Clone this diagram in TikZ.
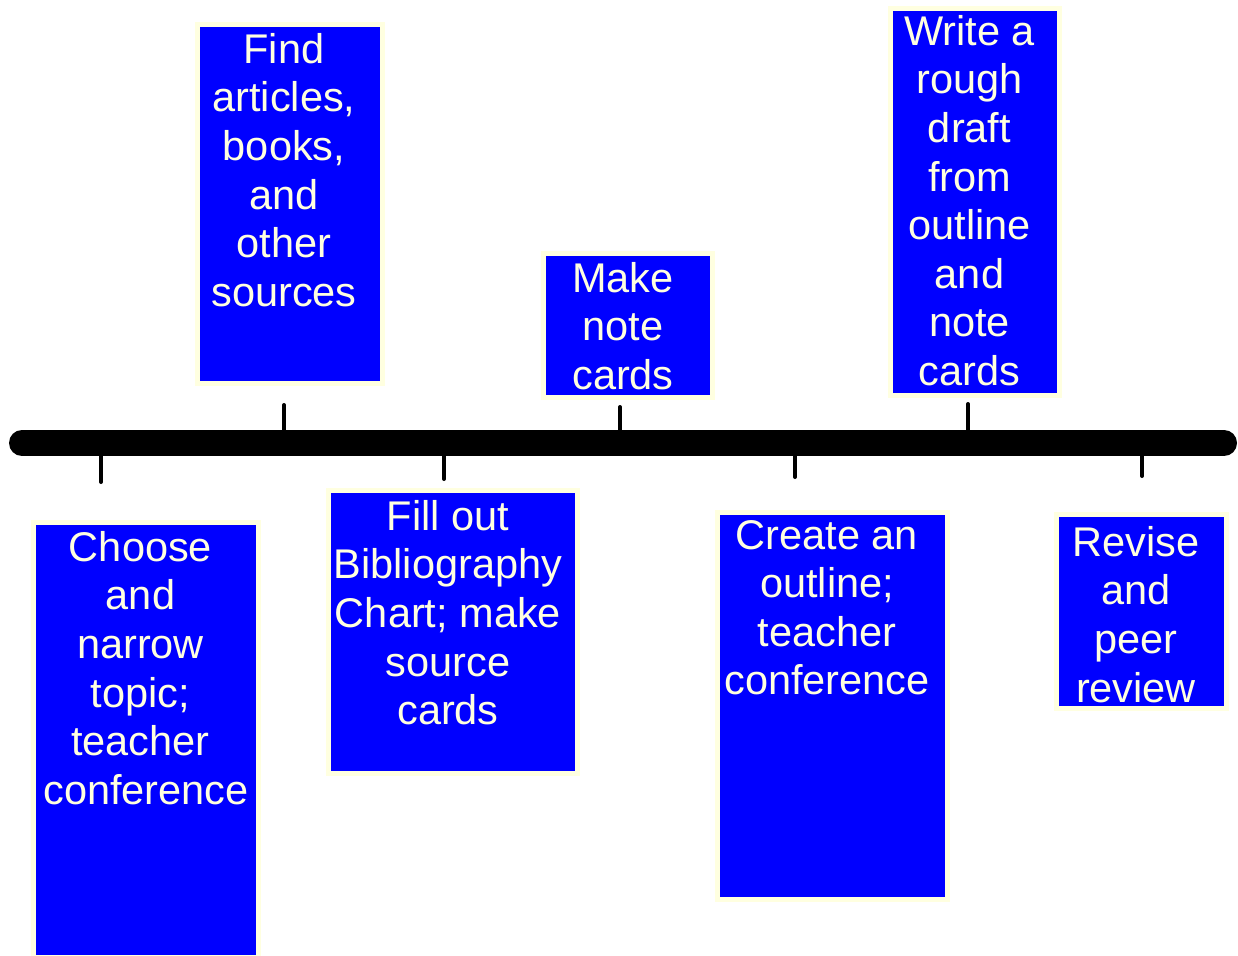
\documentclass[tikz,border=0pt]{standalone}
\usepackage{fontspec}
\setmainfont{Liberation Sans}
\definecolor{cream}{HTML}{FFFFE0}
\definecolor{boxblue}{HTML}{0000FF}
\newcommand\tsp{\kern11pt}
\begin{document}
\begin{tikzpicture}[x=1pt,y=-1pt,
  box/.style={fill=boxblue, draw=cream, line width=5pt, inner sep=0pt, outer sep=0pt, anchor=north west},
  lbl/.style={text=cream, font=\fontsize{41.5}{48.6}\selectfont, align=center, inner sep=0pt, anchor=north},
  tickline/.style={line width=4pt, line cap=round},
  timeline/.style={line width=26pt, line cap=round}]
\useasboundingbox (0,0) rectangle (1238,955);
% timeline
\coordinate (tl0) at (22,443);
\coordinate (tl1) at (1224,443);
\draw[timeline] (tl0) -- (tl1);
% ticks
\coordinate (k1a) at (101,456); \coordinate (k1b) at (101,482);
\coordinate (k2a) at (284,430); \coordinate (k2b) at (284,405);
\coordinate (k3a) at (444,456); \coordinate (k3b) at (444,479);
\coordinate (k4a) at (620,430); \coordinate (k4b) at (620,407);
\coordinate (k5a) at (795,456); \coordinate (k5b) at (795,477);
\coordinate (k6a) at (968,430); \coordinate (k6b) at (968,404);
\coordinate (k7a) at (1142,456); \coordinate (k7b) at (1142,476);
\foreach \i in {1,...,7} \draw[tickline] (k\i a) -- (k\i b);
% boxes
\node[box, minimum width=225, minimum height=435] (b1) at (33.5,522.5) {};
\node[box, minimum width=185, minimum height=359] (b2) at (197.5,24.5) {};
\node[box, minimum width=249, minimum height=283] (b3) at (328.5,490.5) {};
\node[box, minimum width=169, minimum height=144] (b4) at (543.5,253.5) {};
\node[box, minimum width=230, minimum height=387] (b5) at (717.5,512.5) {};
\node[box, minimum width=169, minimum height=387] (b6) at (890.5,8.5) {};
\node[box, minimum width=170, minimum height=194] (b7) at (1056.5,514.5) {};
% labels
\node[lbl] (l1) at (146,531) {Choose\tsp\\and\tsp\\narrow\tsp\\topic;\tsp\\teacher\tsp\\conference};
\node[lbl] (l2) at (284,33) {Find\\articles,\\books,\\and\\other\\sources};
\node[lbl] (l3) at (448,500) {Fill out\\Bibliography\\Chart; make\\source\\cards};
\node[lbl] (l4) at (623,262) {Make\\note\\cards};
\node[lbl] (l5) at (827,520) {Create an\\outline;\\teacher\\conference};
\node[lbl] (l6) at (969.5,15) {Write a\\rough\\draft\\from\\outline\\and\\note\\cards};
\node[lbl] (l7) at (1136,526) {Revise\\and\\peer\\review};
\end{tikzpicture}
\end{document}
